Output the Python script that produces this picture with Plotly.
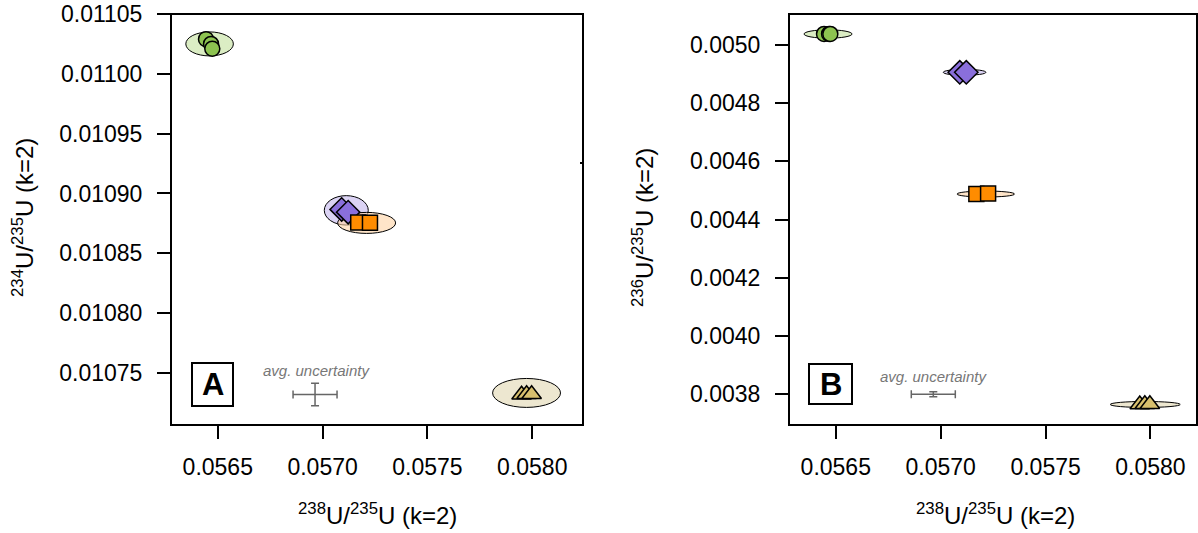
import plotly.graph_objects as go

W, H = 1198, 533

# ---------------- data ----------------
x_green = [0.056444, 0.056468, 0.056474]
y234_green = [0.011029, 0.011025, 0.011021]
y236_green = [0.005038, 0.005038, 0.005038]

x_purple = [0.057091, 0.057122]
y234_purple = [0.0108867, 0.0108844]
y236_purple = [0.004906, 0.004906]

x_orange = [0.057170, 0.057226]
y234_orange = [0.0108758, 0.0108755]
y236_orange = [0.004488, 0.004489]

x_yellow = [0.057949, 0.057973, 0.057997]
y234_yellow = [0.0107318, 0.0107322, 0.0107322]
y236_yellow = [0.003764, 0.003765, 0.003765]

# ellipses: centre x, centre y, semi-axis x, semi-axis y
ell_A_green = [0.056461, 0.011025, 0.0001134, 0.00001003]
ell_A_purple = [0.057113, 0.0108859, 0.0001049, 0.0000123]
ell_A_orange = [0.057210, 0.0108754, 0.0001382, 0.00000878]
ell_A_yellow = [0.0579728, 0.0107333, 0.000162, 0.0000121]

ell_B_green = [0.056463, 0.0050378, 0.0001144, 0.0000144]
ell_B_purple = [0.057114, 0.0049061, 0.0001015, 0.0000103]
ell_B_orange = [0.057215, 0.0044876, 0.0001373, 0.0000103]
ell_B_yellow = [0.057975, 0.003764, 0.0001668, 0.0000103]

# average uncertainty
unc_A = [0.056964, 0.010732, 0.0001049, 0.0000094]
unc_B = [0.0569648, 0.0037988, 0.0001049, 0.0000086]

x_ticks = [0.0565, 0.0570, 0.0575, 0.0580]
x_ticktext = ["0.0565", "0.0570", "0.0575", "0.0580"]
yA_ticks = [0.01075, 0.01080, 0.01085, 0.01090, 0.01095, 0.01100, 0.01105]
yA_ticktext = ["0.01075", "0.01080", "0.01085", "0.01090", "0.01095", "0.01100", "0.01105"]
yB_ticks = [0.0038, 0.0040, 0.0042, 0.0044, 0.0046, 0.0048, 0.0050]
yB_ticktext = ["0.0038", "0.0040", "0.0042", "0.0044", "0.0046", "0.0048", "0.0050"]

# ---------------- styling ----------------
FONT = "Liberation Sans, Arial, Helvetica, sans-serif"
C_GREEN, E_GREEN = "#8DC350", "rgba(215,235,190,0.9)"
C_PURPLE, E_PURPLE = "#8A6FDB", "rgba(200,188,238,0.65)"
C_ORANGE, E_ORANGE = "#FF8C00", "rgba(255,212,165,0.6)"
C_YELLOW, E_YELLOW = "#D8C06E", "rgba(236,230,205,0.95)"


def px_x(p):
    return p / W


def px_y(p):
    return (H - p) / H


fig = go.Figure()

series = [
    (x_green, y234_green, y236_green, "circle", 15, C_GREEN),
    (x_purple, y234_purple, y236_purple, "diamond", 18, C_PURPLE),
    (x_orange, y234_orange, y236_orange, "square", 15, C_ORANGE),
    (x_yellow, y234_yellow, y236_yellow, "triangle-up", 17, C_YELLOW),
]

for xs, ya, yb, sym, sz, col in series:
    for yy, xa, yax in [(ya, "x", "y"), (yb, "x2", "y2")]:
        fig.add_trace(go.Scatter(
            x=xs, y=yy, xaxis=xa, yaxis=yax, mode="markers",
            marker=dict(symbol=sym, size=sz, color=col,
                        line=dict(color="black", width=1.5)),
            showlegend=False, hoverinfo="skip"))

# uncertainty crosses
for unc, xa, yax in [(unc_A, "x", "y"), (unc_B, "x2", "y2")]:
    fig.add_trace(go.Scatter(
        x=[unc[0]], y=[unc[1]], xaxis=xa, yaxis=yax, mode="markers",
        marker=dict(size=1, color="#666666"),
        error_x=dict(type="constant", value=unc[2], color="#666666", thickness=1.5, width=4),
        error_y=dict(type="constant", value=unc[3], color="#666666", thickness=1.5, width=4),
        showlegend=False, hoverinfo="skip"))

shapes = []
for ell, col, xa, yax in [
    (ell_A_green, E_GREEN, "x", "y"), (ell_A_purple, E_PURPLE, "x", "y"),
    (ell_A_orange, E_ORANGE, "x", "y"), (ell_A_yellow, E_YELLOW, "x", "y"),
    (ell_B_green, E_GREEN, "x2", "y2"), (ell_B_purple, E_PURPLE, "x2", "y2"),
    (ell_B_orange, E_ORANGE, "x2", "y2"), (ell_B_yellow, E_YELLOW, "x2", "y2"),
]:
    cx, cy, rx, ry = ell
    shapes.append(dict(type="circle", xref=xa, yref=yax, layer="below",
                       x0=cx - rx, x1=cx + rx, y0=cy - ry, y1=cy + ry,
                       fillcolor=col, line=dict(color="black", width=1)))

# plot boxes
for x0, x1 in [(171, 583), (789, 1197)]:
    shapes.append(dict(type="rect", xref="paper", yref="paper",
                       x0=px_x(x0), x1=px_x(x1), y0=px_y(425), y1=px_y(14),
                       line=dict(color="black", width=2), layer="above"))
# panel label boxes
for x0, x1, y0, y1 in [(192, 233, 363, 406), (809, 852, 364, 404)]:
    shapes.append(dict(type="rect", xref="paper", yref="paper",
                       x0=px_x(x0), x1=px_x(x1), y0=px_y(y1), y1=px_y(y0),
                       line=dict(color="black", width=2), fillcolor="white"))
# small stray tick on panel A right edge
shapes.append(dict(type="line", xref="paper", yref="paper",
                   x0=px_x(580), x1=px_x(584), y0=px_y(163), y1=px_y(163),
                   line=dict(color="black", width=2)))


def ann(text, x, y, size, xref="paper", yref="paper", color="black", angle=0):
    return dict(text=text, xref=xref, yref=yref, x=x, y=y, showarrow=False,
                xanchor="center", yanchor="middle", textangle=angle,
                font=dict(family=FONT, size=size, color=color))


annotations = [
    ann("<b>A</b>", px_x(212.5), px_y(385), 31),
    ann("<b>B</b>", px_x(830.5), px_y(384), 31),
    ann("<i>avg. uncertainty</i>", 0.0569719, 0.0107523, 15, "x", "y", "#777777"),
    ann("<i>avg. uncertainty</i>", 0.056965, 0.0038594, 15, "x2", "y2", "#777777"),
    ann("<sup>238</sup>U/<sup>235</sup>U (k=2)", px_x(377), px_y(514), 24),
    ann("<sup>238</sup>U/<sup>235</sup>U (k=2)", px_x(995), px_y(514), 24),
    ann("<sup>234</sup>U/<sup>235</sup>U (k=2)", px_x(23), px_y(218), 24, angle=-90),
    ann("<sup>236</sup>U/<sup>235</sup>U (k=2)", px_x(643), px_y(228), 24, angle=-90),
]

axis_common = dict(showgrid=False, zeroline=False, showline=False, ticks="outside",
                   ticklen=13, tickwidth=1.5, tickcolor="black", automargin=False,
                   tickfont=dict(family=FONT, size=23, color="black"))

fig.update_layout(
    width=W, height=H, margin=dict(l=0, r=0, t=0, b=0, pad=0, autoexpand=False),
    paper_bgcolor="white", plot_bgcolor="white",
    font=dict(family=FONT),
    shapes=shapes, annotations=annotations,
    xaxis=dict(domain=[px_x(171), px_x(583)], range=[0.056277, 0.058242],
               tickvals=x_ticks, ticktext=x_ticktext, anchor="y",
               ticklabelstandoff=8, **axis_common),
    yaxis=dict(domain=[px_y(425), px_y(14)], range=[0.0107065, 0.011050],
               tickvals=yA_ticks, ticktext=yA_ticktext, anchor="x",
               ticklabelstandoff=10, **axis_common),
    xaxis2=dict(domain=[px_x(789), 1.0], range=[0.056277, 0.0582265],
                tickvals=x_ticks, ticktext=x_ticktext, anchor="y2",
                ticklabelstandoff=8, **axis_common),
    yaxis2=dict(domain=[px_y(425), px_y(14)], range=[0.0036934, 0.0051066],
                tickvals=yB_ticks, ticktext=yB_ticktext, anchor="x2",
                ticklabelstandoff=10, **axis_common),
)

fig.write_html("out.html", config={"displayModeBar": False},
               post_script="document.body.style.margin='0';document.body.style.overflow='hidden';")
